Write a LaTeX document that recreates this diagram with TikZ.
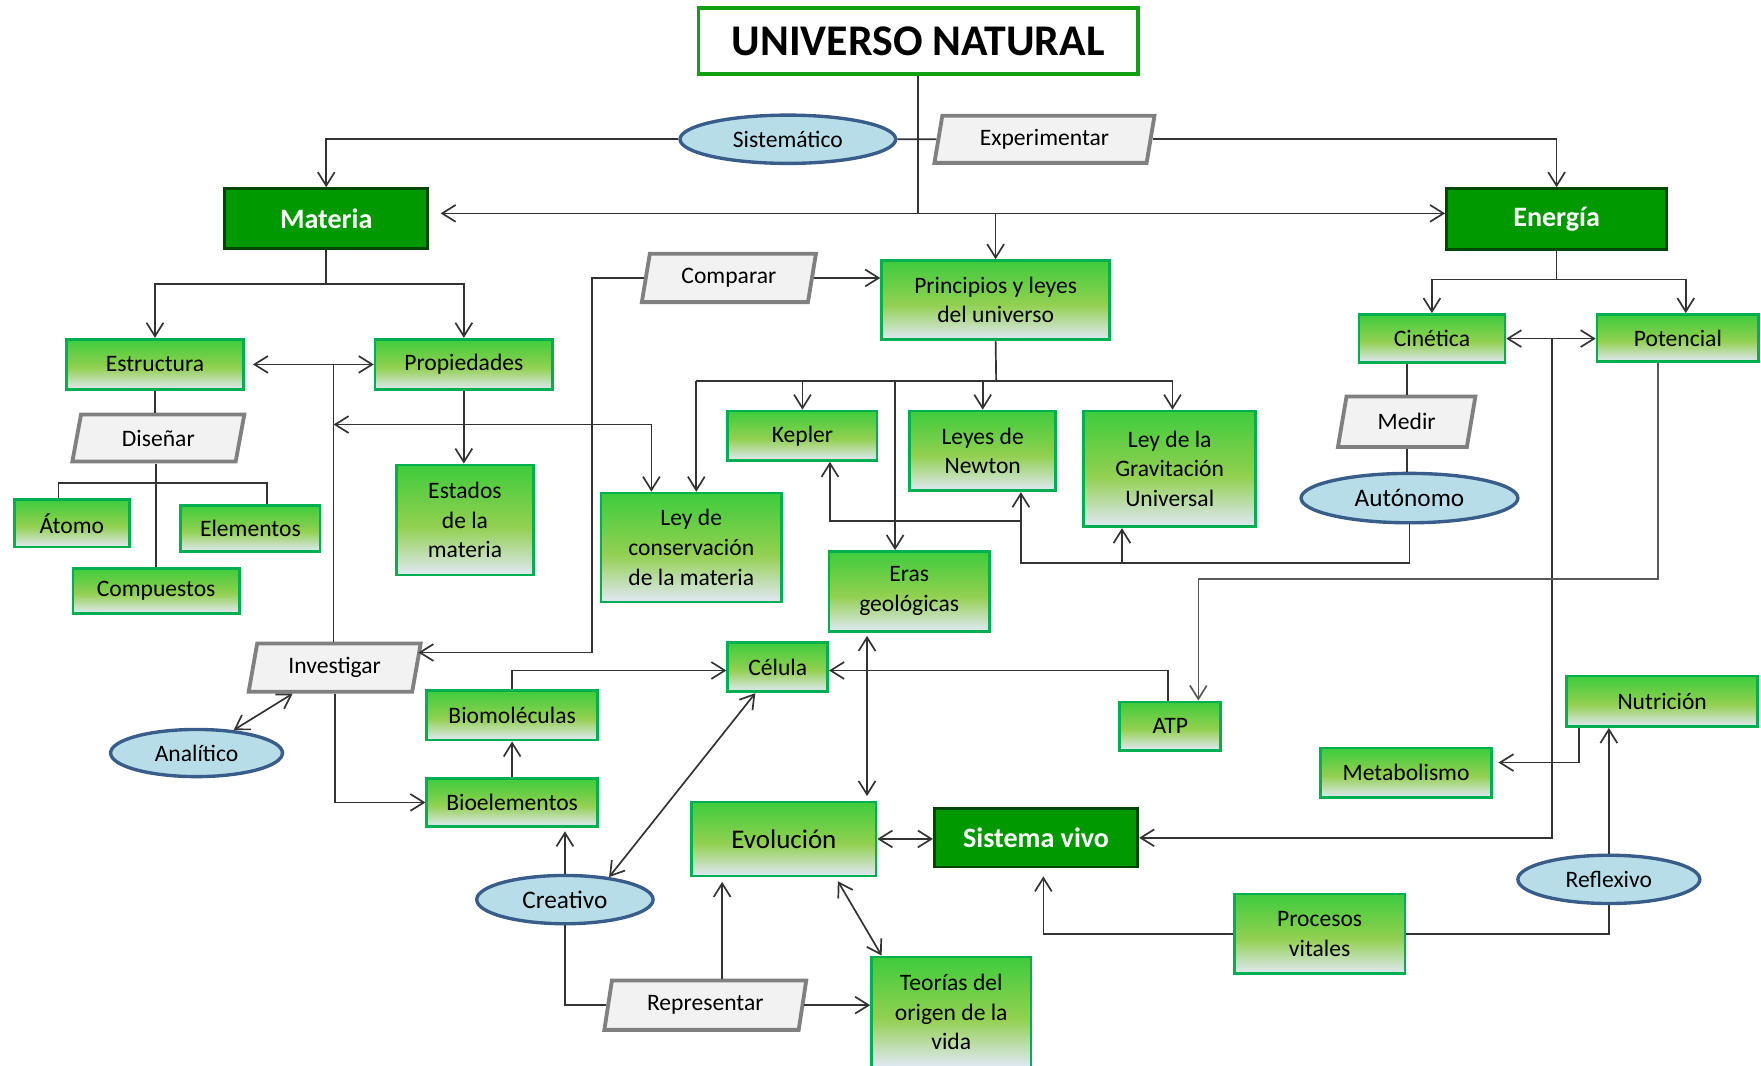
\documentclass[tikz,border=0pt]{standalone}
\usepackage{fontspec}
\setmainfont{Carlito}
\usetikzlibrary{positioning,arrows.meta,shapes.geometric}

\definecolor{verdeborde}{RGB}{0,176,80}
\definecolor{verdearriba}{RGB}{62,204,60}
\definecolor{verdemedio}{RGB}{146,208,80}
\definecolor{verdeabajo}{RGB}{221,231,238}
\definecolor{verdefuerte}{RGB}{0,153,0}
\definecolor{verdeoscuro}{RGB}{0,70,0}
\definecolor{verdetitulo}{RGB}{16,160,16}
\definecolor{celeste}{RGB}{183,222,232}
\definecolor{azulborde}{RGB}{56,93,138}
\definecolor{grisclaro}{RGB}{242,242,242}
\definecolor{grisborde}{RGB}{128,128,128}

\pgfdeclareverticalshading{verdegrad}{100bp}{color(0bp)=(verdeabajo); color(26bp)=(verdeabajo); color(47bp)=(verdemedio); color(75bp)=(verdearriba); color(100bp)=(verdearriba)}

\begin{document}
\begin{tikzpicture}[x=1pt, y=-1pt, >={Straight Barb[length=12pt,width=15pt]},
    linea/.style={draw=black!80, line width=1.5pt},
    caja/.style={draw=verdeborde, line width=2.4pt, shading=verdegrad, inner sep=0pt, align=center, font=\fontsize{21}{26.5}\selectfont},
    oscura/.style={draw=verdeoscuro, line width=2.6pt, fill=verdefuerte, text=white, inner sep=0pt, font=\fontsize{25}{30}\selectfont\bfseries},
    titulo/.style={draw=verdetitulo, line width=3.4pt, fill=white, inner sep=0pt, font=\fontsize{39}{45}\selectfont\bfseries},
    elipse/.style={ellipse, draw=azulborde, line width=3pt, fill=celeste, inner sep=0pt, font=\fontsize{21}{26.5}\selectfont},
    parale/.style={trapezium, trapezium left angle=76, trapezium right angle=104, trapezium stretches=true, draw=grisborde, line width=3.4pt, fill=grisclaro, inner sep=0pt, font=\fontsize{21}{26.5}\selectfont}]

\useasboundingbox (0,0) rectangle (1568,949);

% === Cabecera ===
\node[titulo, minimum width=391pt, minimum height=59pt] (univ) at (817.5,36.5) {UNIVERSO NATURAL};
\node[elipse, minimum width=192pt, minimum height=43pt] (sist) at (701.5,124) {Sistemático};
\node[parale, minimum width=196pt, minimum height=42pt] (exper) at (930,124) {Experimentar};

% === Nodos principales ===
\node[oscura, minimum width=181pt, minimum height=53pt] (materia) at (290.5,194.5) {Materia};
\node[oscura, minimum width=196pt, minimum height=54pt] (energia) at (1386,195) {Energía};
\node[oscura, minimum width=181pt, minimum height=52pt] (sistvivo) at (922.5,746) {Sistema vivo};

% === Materia ===
\node[caja, minimum width=158pt, minimum height=45pt] (estr) at (138,324.5) {Estructura};
\node[caja, minimum width=158pt, minimum height=45pt] (prop) at (413,324.5) {Propiedades};
\node[parale, minimum width=154pt, minimum height=42pt] (disenar) at (141,390) {Diseñar};
\node[caja, minimum width=102pt, minimum height=42pt] (atomo) at (64,466) {Átomo};
\node[caja, minimum width=124pt, minimum height=41pt] (elem) at (223,470.5) {Elementos};
\node[caja, minimum width=148pt, minimum height=40pt] (compu) at (139,526) {Compuestos};
\node[caja, minimum width=122pt, minimum height=98pt] (estados) at (414,463) {Estados\\de la\\materia};
\node[parale, minimum width=154pt, minimum height=43pt] (invest) at (298,594.5) {Investigar};
\node[elipse, minimum width=153pt, minimum height=42pt] (analit) at (175,670.5) {Analítico};
\node[caja, minimum width=152pt, minimum height=44pt] (biomol) at (456,637) {Biomoléculas};
\node[caja, minimum width=152pt, minimum height=43pt] (bioel) at (456,714.5) {Bioelementos};
\node[elipse, minimum width=157pt, minimum height=43pt, font=\fontsize{22.5}{27}\selectfont] (creat) at (503,801) {Creativo};

% === Principios y leyes ===
\node[parale, minimum width=156pt, minimum height=43pt] (compar) at (649,247.5) {Comparar};
\node[caja, minimum width=203pt, minimum height=70pt] (princ) at (886.5,267) {Principios y leyes\\del universo};
\node[caja, minimum width=161pt, minimum height=97pt] (conserv) at (615.5,487.5) {Ley de\\conservación\\de la materia};
\node[caja, minimum width=133pt, minimum height=44pt] (kepler) at (714.5,388) {Kepler};
\node[caja, minimum width=130pt, minimum height=71pt] (newton) at (875,401.5) {Leyes de\\Newton};
\node[caja, minimum width=153pt, minimum height=103pt] (grav) at (1041.5,417.5) {Ley de la\\Gravitación\\Universal};
\node[caja, minimum width=143pt, minimum height=71pt] (eras) at (809.5,526.5) {Eras\\geológicas};
\node[caja, minimum width=89pt, minimum height=44pt] (celula) at (692.5,594) {Célula};
\node[caja, minimum width=90pt, minimum height=43pt] (atp) at (1042,646.5) {ATP};

% === Energía ===
\node[caja, minimum width=130pt, minimum height=43pt] (cinet) at (1275,301.5) {Cinética};
\node[caja, minimum width=144pt, minimum height=42pt] (poten) at (1494,301) {Potencial};
\node[parale, minimum width=123pt, minimum height=45pt] (medir) at (1252.5,375.5) {Medir};
\node[elipse, minimum width=193pt, minimum height=44pt, font=\fontsize{22.5}{27}\selectfont] (auton) at (1255,443.5) {Autónomo};
\node[caja, minimum width=170pt, minimum height=45pt] (nutric) at (1480,624.5) {Nutrición};
\node[caja, minimum width=152pt, minimum height=44pt] (metab) at (1252,688) {Metabolismo};
\node[elipse, minimum width=162pt, minimum height=43pt] (reflex) at (1432.5,783) {Reflexivo};
\node[caja, minimum width=152pt, minimum height=71pt] (procesos) at (1175,831.5) {Procesos\\vitales};

% === Sistema vivo ===
\node[caja, minimum width=164pt, minimum height=66pt, font=\fontsize{24}{29}\selectfont] (evol) at (698,747) {Evolución};
\node[parale, minimum width=180pt, minimum height=44pt] (repr) at (628,895) {Representar};
\node[caja, minimum width=142pt, minimum height=98pt] (teorias) at (847,901) {Teorías del\\origen de la\\vida};

% === Puntos de unión ===
\coordinate (bar) at (818,190);
\coordinate (mb) at (290.5,253);
\coordinate (eb) at (1386,249);
\coordinate (ep) at (297,324.5);
\coordinate (lc) at (580,378);
\coordinate (kc) at (527,581);
\coordinate (db) at (139,430);
\coordinate (pb) at (887,339);
\coordinate (pl) at (620,339);
\coordinate (pr) at (1044,339);
\coordinate (pe) at (797,339);
\coordinate (nb) at (909,501);
\coordinate (gb) at (999,501);
\coordinate (kn) at (909,464);
\coordinate (kb) at (739,464);
\coordinate (cp) at (1382,301);
\coordinate (pa) at (1067,515.5);
\coordinate (ac) at (1040,597);
\coordinate (bc) at (456,597);
\coordinate (nm) at (1406,679);
\coordinate (rv) at (643,895);
\coordinate (ee) at (772,650);
\coordinate (ps) at (929,831.5);

% === Conectores ===
% universo
\draw[linea] (univ.south) -- (univ.south |- bar);
\draw[linea, <->, shorten <=10pt] (materia.east |- bar) -- (energia.west |- bar);
\draw[linea, ->] (bar -| princ.north) -- (princ.north);
\draw[linea, ->] (sist.west) -| (materia.north);
\draw[linea] (sist.east) -- (exper.west);
\draw[linea, ->] (exper.east) -| (energia.north);
% comparar
\draw[linea, ->] (compar.east) -- (compar.east -| princ.west);
\draw[linea, ->] (compar.west) -| (kc) -- (kc -| invest.east);
% materia
\draw[linea] (materia.south) -- (mb);
\draw[linea, ->] (mb) -| (estr.north);
\draw[linea, ->] (mb) -| (prop.north);
\draw[linea, <->, shorten <=7pt] (estr.east) -- (prop.west);
\draw[linea] (ep) -- (ep |- invest.north);
\draw[linea, ->] (invest.south) |- (bioel.west);
\draw[linea, <->] (ep |- lc) -- (lc) -- (lc |- conserv.north);
\draw[linea, ->] (prop.south) -- (prop.south |- estados.north);
\draw[linea] (estr.south) -- (estr.south |- disenar.north);
\draw[linea] (compu.north |- disenar.south) -- (compu.north);
\draw[linea] ([xshift=-12pt]atomo.north) |- (db) -| ([xshift=15pt]elem.north);
\draw[linea, <->] (analit) -- (invest);
% principios
\draw[linea] (princ.south) -- (pb);
\draw[linea] (pl) -- (pr);
\draw[linea, ->] (pl) -- (pl |- conserv.north);
\draw[linea, ->] (kepler.north |- pb) -- (kepler.north);
\draw[linea, ->] (newton.north |- pb) -- (newton.north);
\draw[linea, ->] (pr) -- (pr |- grav.north);
\draw[linea, ->] (pe) -- (pe |- eras.north);
% energia
\draw[linea] (energia.south) -- (eb);
\draw[linea, ->] (eb) -| (cinet.north);
\draw[linea, ->] (eb) -| ([xshift=7pt]poten.north);
\draw[linea, <->] (cinet.east) -- (cinet.east -| poten.west);
\draw[linea, ->] (cp) |- (sistvivo.east);
\draw[linea, ->, draw=black!65] ([xshift=-18pt]poten.south) |- (pa) -- (pa |- atp.north);
\draw[linea] (medir.north |- cinet.south) -- (medir.north);
\draw[linea] (medir.south) -- (medir.south |- auton.north);
\draw[linea, ->] (auton.south) |- (nb) -- (nb |- newton.south);
\draw[linea, ->] (gb) -- (gb |- grav.south);
\draw[linea, ->] (kn) -- (kb) -- (kb |- kepler.south);
% celula
\draw[linea, ->] (atp.north -| ac) -- (ac) -- (ac -| celula.east);
\draw[linea, ->] (biomol.north -| bc) -- (bc) -- (bc -| celula.west);
\draw[linea, ->] (bioel.north) -- (biomol.south);
\draw[linea, ->, shorten >=3pt] (creat.north) -- (creat.north |- bioel.south);
\draw[linea, <->] (creat.27) -- ([xshift=-20pt]celula.south);
\draw[linea] (creat.south) |- (repr.west);
% evolucion
\draw[linea, ->, shorten >=4pt] (rv |- repr.north) -- (rv |- evol.south);
\draw[linea, ->] (repr.east) -- (repr.east -| teorias.west);
\draw[linea, <->, shorten <=3pt, shorten >=4pt] (ee |- eras.south) -- (ee |- evol.north);
\draw[linea, <->] (evol.east) -- (evol.east -| sistvivo.west);
\draw[linea, <->, shorten <=4pt] ([xshift=46pt]evol.south) -- ([xshift=-62pt]teorias.north);
% sistema vivo
\draw[linea, ->, shorten >=7pt] (procesos.west) -| (ps |- sistvivo.south);
\draw[linea] (procesos.east) -| (reflex.south);
\draw[linea, ->] (reflex.north) -- (reflex.north |- nutric.south);
\draw[linea, ->, shorten >=5pt] (nm |- nutric.south) -- (nm) -- (nm -| metab.east);

\end{tikzpicture}
\end{document}
